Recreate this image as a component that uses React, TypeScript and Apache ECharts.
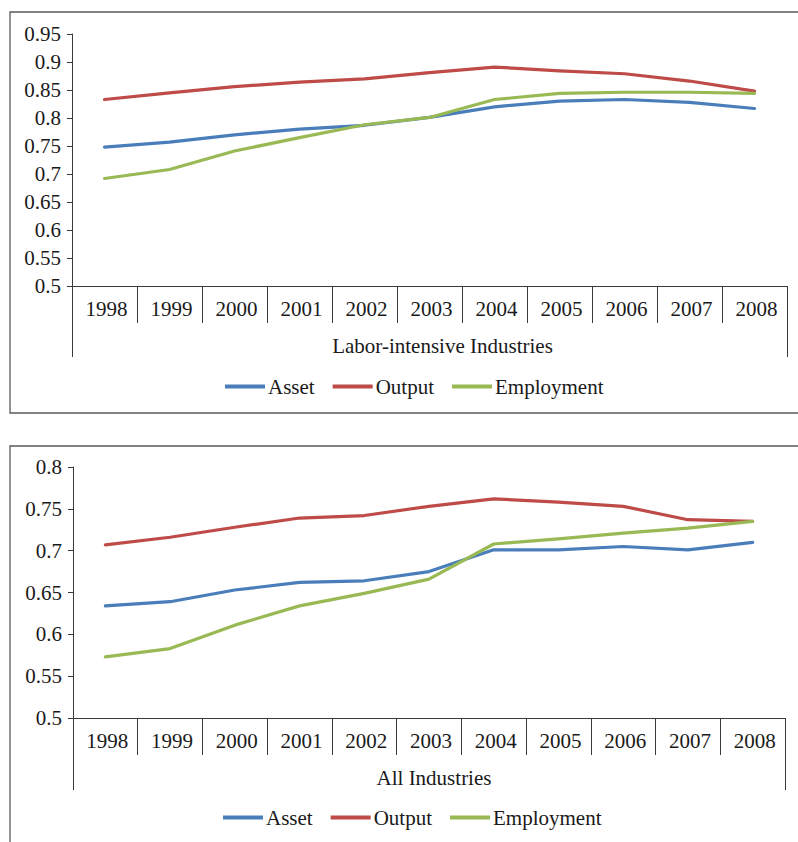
import React, { useEffect, useRef } from "react";
import * as echarts from "echarts";

// Years shared by both panels
const years = ["1998", "1999", "2000", "2001", "2002", "2003", "2004", "2005", "2006", "2007", "2008"];

// Panel groups (outer category level)
const topGroup = ["Labor-intensive Industries"];
const bottomGroup = ["All Industries"];

const seriesNames = ["Asset", "Output", "Employment"];

// Labor-intensive industries
const laborAsset = [0.748, 0.757, 0.77, 0.78, 0.787, 0.801, 0.82, 0.83, 0.833, 0.828, 0.817];
const laborOutput = [0.833, 0.845, 0.856, 0.864, 0.87, 0.881, 0.891, 0.884, 0.879, 0.866, 0.848];
const laborEmployment = [0.692, 0.708, 0.741, 0.765, 0.788, 0.801, 0.833, 0.844, 0.846, 0.846, 0.844];

// All industries
const allAsset = [0.634, 0.639, 0.653, 0.662, 0.664, 0.675, 0.701, 0.701, 0.705, 0.701, 0.71];
const allOutput = [0.707, 0.716, 0.728, 0.739, 0.742, 0.753, 0.762, 0.758, 0.753, 0.737, 0.735];
const allEmployment = [0.573, 0.583, 0.611, 0.634, 0.649, 0.666, 0.708, 0.714, 0.721, 0.727, 0.735];

const COLORS = ["#4A7EBB", "#BE4B48", "#98B954"];
const FONT = "'Liberation Serif', 'Times New Roman', serif";
const FS = 21;
const TEXT = "#1a1a1a";
const AXIS = "#3a3a3a";

export default function App() {
  const ref = useRef<HTMLDivElement>(null);

  useEffect(() => {
    if (!ref.current) return;
    const chart = echarts.init(ref.current, undefined, { renderer: "svg" });

    const grids = [
      { left: 72, top: 34, width: 715, height: 252 },
      { left: 73, top: 467, width: 712, height: 251 },
    ];

    const yAxisFor = (gridIndex: number, max: number) => ({
      type: "value" as const,
      gridIndex,
      min: 0.5,
      max,
      interval: 0.05,
      axisLine: { show: true, lineStyle: { color: AXIS, width: 1 } },
      axisTick: { show: true, inside: false, length: 5, lineStyle: { color: AXIS } },
      splitLine: { show: false },
      axisLabel: { color: TEXT, fontFamily: FONT, fontSize: FS, margin: 11 },
    });

    const yearAxis = (gridIndex: number) => ({
      type: "category" as const,
      gridIndex,
      data: years,
      boundaryGap: true,
      position: "bottom" as const,
      axisLine: { show: true, lineStyle: { color: AXIS, width: 1 } },
      axisTick: { show: true, interval: 0, length: 37, lineStyle: { color: AXIS } },
      axisLabel: {
        interval: 0,
        color: TEXT,
        fontFamily: FONT,
        fontSize: FS,
        margin: 12,
        padding: [0, 0, 0, 4],
      },
    });

    const groupAxis = (gridIndex: number, data: string[], shift: number, len: number) => ({
      type: "category" as const,
      gridIndex,
      data,
      boundaryGap: true,
      position: "bottom" as const,
      axisLine: { show: false },
      axisTick: { show: true, interval: 0, length: len, lineStyle: { color: AXIS } },
      axisLabel: {
        interval: 0,
        color: TEXT,
        fontFamily: FONT,
        fontSize: FS,
        margin: 49,
        padding: [0, 0, 0, shift],
      },
    });

    const line = (name: string, data: number[], idx: number, axis: number) => ({
      type: "line" as const,
      name,
      data,
      xAxisIndex: axis * 2,
      yAxisIndex: axis,
      showSymbol: false,
      symbol: "none",
      lineStyle: { width: 3.2, color: COLORS[idx], cap: "round" as const, join: "round" as const },
      itemStyle: { color: COLORS[idx] },
    });

    const legendFor = (top: number, left: number) => ({
      top,
      left,
      icon: "rect",
      itemWidth: 40,
      itemHeight: 4,
      itemGap: 18,
      data: seriesNames,
      selectedMode: false,
      textStyle: { color: TEXT, fontFamily: FONT, fontSize: FS, padding: [0, 0, 0, -2] },
    });

    chart.setOption({
      animation: false,
      backgroundColor: "#ffffff",
      textStyle: { fontFamily: FONT },
      grid: grids,
      xAxis: [
        yearAxis(0),
        groupAxis(0, topGroup, 26, 71),
        yearAxis(1),
        groupAxis(1, bottomGroup, 10, 72),
      ],
      yAxis: [yAxisFor(0, 0.95), yAxisFor(1, 0.8)],
      legend: [legendFor(371, 220), legendFor(802, 218)],
      series: [
        line("Asset", laborAsset, 0, 0),
        line("Output", laborOutput, 1, 0),
        line("Employment", laborEmployment, 2, 0),
        line("Asset", allAsset, 0, 1),
        line("Output", allOutput, 1, 1),
        line("Employment", allEmployment, 2, 1),
      ],
      graphic: [
        {
          type: "rect",
          shape: { x: 10, y: 12, width: 800, height: 401 },
          style: { fill: "none", stroke: "#5a5a5a", lineWidth: 1.3 },
          silent: true,
        },
        {
          type: "rect",
          shape: { x: 10, y: 446, width: 800, height: 420 },
          style: { fill: "none", stroke: "#5a5a5a", lineWidth: 1.3 },
          silent: true,
        },
      ],
    });

    return () => chart.dispose();
  }, []);

  return (
    <div
      ref={ref}
      style={{ position: "fixed", left: 0, top: 0, width: 798, height: 842, background: "#fff" }}
    />
  );
}
